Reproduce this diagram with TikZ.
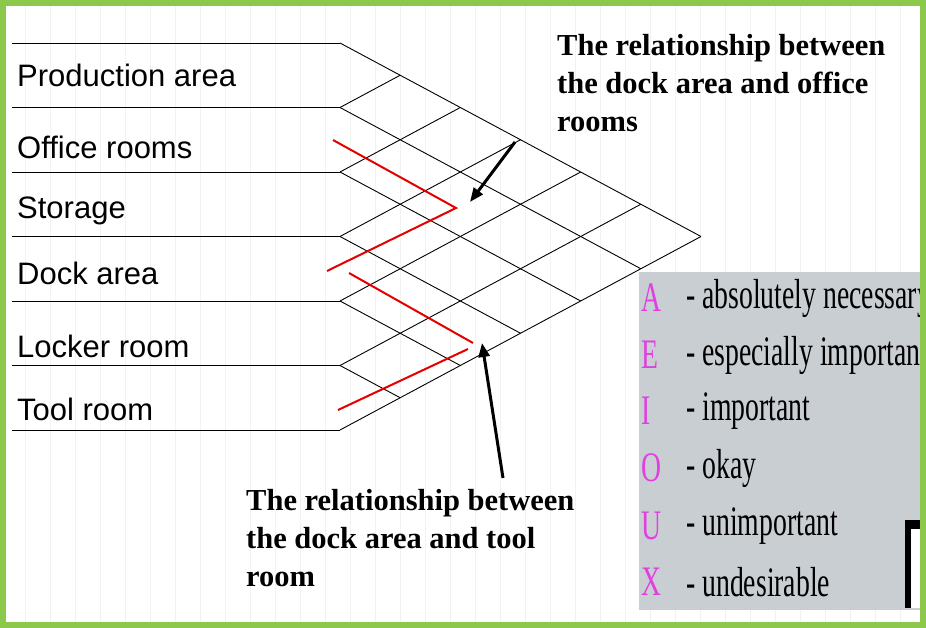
\documentclass[tikz,border=0pt]{standalone}
\usepackage{fontspec}
\setmainfont{Liberation Serif}
\newfontfamily\labfont{Liberation Sans}
\usetikzlibrary{arrows.meta}
\definecolor{bord}{HTML}{8CC84B}
\definecolor{legbg}{HTML}{C9CED3}
\definecolor{mag}{HTML}{E040E0}
\definecolor{gridc}{HTML}{F1F3F1}
\begin{document}
\begin{tikzpicture}[x=1pt,y=-1pt,
  lab/.style={anchor=west,font=\labfont\fontsize{31}{31}\selectfont,inner sep=0},
  ann/.style={anchor=north west,align=left,font=\bfseries\fontsize{30.5}{38}\selectfont,inner sep=0},
  gl/.style={black,line width=0.9pt},
  rl/.style={red!90!black,line width=2pt},
  arr/.style={-{Triangle[length=14pt,width=11pt]},line width=3pt},
  let/.style={anchor=west,text=mag,font=\fontsize{42}{42}\selectfont,inner sep=0},
  leg/.style={anchor=west,font=\fontsize{42}{42}\selectfont,inner sep=0}]
\useasboundingbox (0,0) rectangle (926,628);
\fill[white] (0,0) rectangle (926,628);
\draw[gridc,step=25] (0,0) grid (926,628);
% rows
\foreach \k/\yy in {0/43,1/107.5,2/172,3/236.5,4/301,5/365.5,6/430}{
  \coordinate (r\k) at (340,\yy);
  \draw[gl] (12,\yy) -- (r\k);
}
\pgfmathsetmacro{\s}{0.536}
\foreach \k in {0,...,5}{
  \pgfmathsetmacro{\dx}{(6-\k)*64.5/(2*\s)}
  \pgfmathsetmacro{\ym}{43+(\k+6)*64.5/2}
  \coordinate (d\k) at (340+\dx,\ym);
  \draw[gl] (r\k) -- (d\k);
}
\foreach \k in {1,...,6}{
  \pgfmathsetmacro{\dx}{\k*64.5/(2*\s)}
  \pgfmathsetmacro{\ym}{43+\k*64.5/2}
  \coordinate (u\k) at (340+\dx,\ym);
  \draw[gl] (r\k) -- (u\k);
}
\node[lab] (l1) at (17,75) {Production area};
\node[lab] (l2) at (17,147) {Office rooms};
\node[lab] (l3) at (17,211) {Storage};
\node[lab] (l4) at (17,273) {Dock area};
\node[lab] (l5) at (17,346) {Locker room};
\node[lab] (l6) at (17,409) {Tool room};
% red lines
\coordinate (a1) at (333,140); \coordinate (a2) at (456,208); \coordinate (a3) at (327,271);
\draw[rl] (a1) -- (a2) -- (a3);
\coordinate (b1) at (349,273); \coordinate (b2) at (473,343);
\coordinate (b3) at (468,349); \coordinate (b4) at (338,410);
\draw[rl] (b1) -- (b2);
\draw[rl] (b3) -- (b4);
% annotations
\node[ann] (t1) at (557,34) {The relationship between\\the dock area and office\\rooms};
\node[ann] (t2) at (246,489) {The relationship between\\the dock area and tool\\room};
\coordinate (p1) at (515,142); \coordinate (q1) at (470,202);
\coordinate (p2) at (503,478); \coordinate (q2) at (482,343);
\draw[arr] (p1) -- (q1);
\draw[arr] (p2) -- (q2);
% legend
\fill[legbg] (639,272) rectangle (920,610);
\begin{scope}
\clip (639,272) rectangle (920,610);
\foreach \L/\T/\yy in {A/absolutely necessary/298,E/especially important/355,I/important/411,O/okay/468,U/unimportant/526,X/undesirable/582}{
  \node[let] (L\L) at (641,\yy) {\scalebox{0.66}[1]{\L}};
  \node[leg] (T\L) at (686,\yy) {\scalebox{0.66}[1]{- \T}};
}
\fill[black] (905,520) rectangle (920,529);
\fill[black] (905,520) rectangle (911,608);
\fill[white] (911,529) rectangle (920,608);
\end{scope}
\draw[bord,line width=6pt] (3,3) rectangle (923,625);
\end{tikzpicture}
\end{document}
